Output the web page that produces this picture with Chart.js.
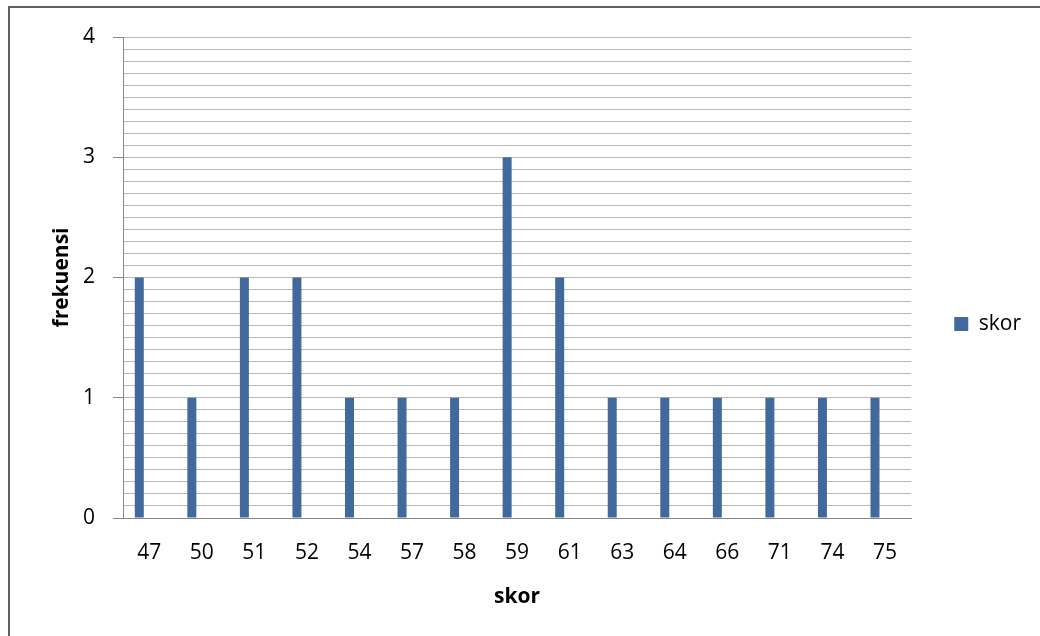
<!DOCTYPE html>
<html>
<head>
<meta charset="utf-8">
<script src="https://cdn.jsdelivr.net/npm/chart.js@4.4.1/dist/chart.umd.min.js"></script>
<style>
  html, body { margin: 0; padding: 0; background: #ffffff; overflow: hidden; }
  #wrap { position: relative; width: 1040px; height: 636px; }
  #frame {
    position: absolute; left: 8px; top: 6px; width: 1100px; height: 700px;
    border-left: 2px solid #5e5e5e; border-top: 2px solid #5e5e5e;
    box-sizing: border-box; pointer-events: none;
  }
  canvas { position: absolute; left: 0; top: 0; }
</style>
</head>
<body>
<div id="wrap">
  <canvas id="c" width="1040" height="636"></canvas>
  <div id="frame"></div>
</div>
<script>
// Score categories and how often each occurs
const categories = ['47', '50', '51', '52', '54', '57', '58', '59', '61', '63', '64', '66', '71', '74', '75'];
const skorFrequency = [2, 1, 2, 2, 1, 1, 1, 3, 2, 1, 1, 1, 1, 1, 1];
const emptySeries = categories.map(() => null);
const yMajorTicks = [0, 1, 2, 3, 4];

const FONT = '"Open Sans", "Liberation Sans", sans-serif';
const AXIS_GRAY = '#868686';
const GRID_GRAY = '#b8b8b8';

function isMajor(v) {
  const r = Math.round(v * 10) / 10;
  return yMajorTicks.includes(r);
}

function draw() {
  Chart.defaults.font.family = FONT;
  Chart.defaults.font.size = 21;
  Chart.defaults.color = '#000000';

  new Chart(document.getElementById('c'), {
    type: 'bar',
    data: {
      labels: categories,
      datasets: [
        {
          label: 'skor',
          data: skorFrequency,
          backgroundColor: '#41699e',
          borderWidth: 0,
          barPercentage: 0.45,
          categoryPercentage: 0.76
        },
        {
          label: '',
          data: emptySeries,
          backgroundColor: 'rgba(0,0,0,0)',
          barPercentage: 0.45,
          categoryPercentage: 0.76
        }
      ]
    },
    options: {
      responsive: false,
      animation: false,
      layout: { padding: { left: 8, top: 37, bottom: 25, right: 9 } },
      plugins: {
        tooltip: { enabled: false },
        legend: {
          position: 'right',
          labels: {
            boxWidth: 14,
            boxHeight: 14,
            padding: 43,
            font: { size: 21 },
            color: '#000000',
            filter: (item) => item.datasetIndex === 0
          }
        }
      },
      scales: {
        x: {
          grid: { display: true, drawOnChartArea: false, drawTicks: false },
          border: { color: AXIS_GRAY, width: 1 },
          ticks: { padding: 22, maxRotation: 0, autoSkip: false, font: { size: 21 } },
          title: {
            display: true,
            text: 'skor',
            font: { size: 21, weight: 'bold' },
            padding: { top: 0, bottom: 1 }
          },
          afterFit: (scale) => { scale.height = 93; }
        },
        y: {
          min: 0,
          max: 4,
          grid: {
            color: GRID_GRAY,
            lineWidth: 1,
            tickLength: 10,
            tickColor: (ctx) => (ctx.tick && isMajor(ctx.tick.value)) ? AXIS_GRAY : 'rgba(0,0,0,0)'
          },
          border: { color: AXIS_GRAY, width: 1 },
          ticks: {
            stepSize: 0.1,
            maxTicksLimit: 100,
            autoSkip: false,
            padding: 18,
            font: { size: 21 },
            callback: (v) => isMajor(v) ? String(Math.round(v)) : ''
          },
          title: {
            display: true,
            text: 'frekuensi',
            font: { size: 21, weight: 'bold' },
            padding: { top: 41, bottom: 0 }
          },
          afterFit: (scale) => { scale.width = 115; }
        }
      }
    }
  });
}

Promise.all([
  document.fonts.load('21px "Open Sans"'),
  document.fonts.load('bold 21px "Open Sans"')
]).then(draw, draw);
</script>
</body>
</html>
